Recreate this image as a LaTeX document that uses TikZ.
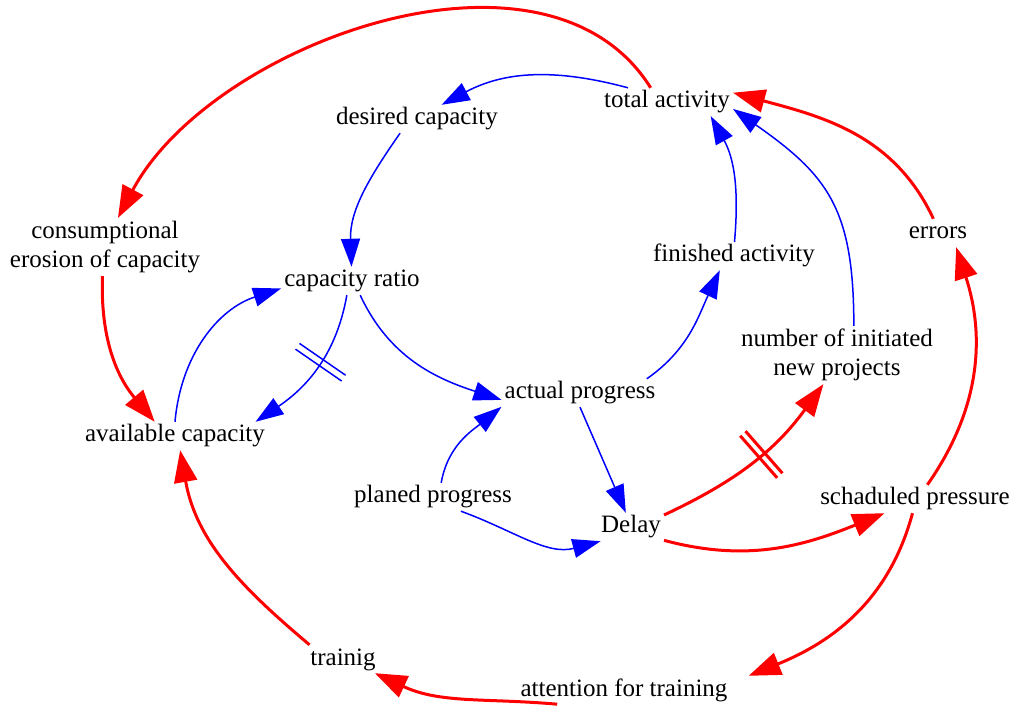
\documentclass[tikz,border=0pt]{standalone}
\usepackage{fontspec}
\setmainfont{Liberation Serif}
\usetikzlibrary{arrows.meta}
\usetikzlibrary{decorations.markings}

\begin{document}
\begin{tikzpicture}[x=1pt, y=1pt,
  var/.style={font=\fontsize{25}{29}\selectfont, inner sep=3pt, text height=17pt, text depth=5pt},
  var2/.style={font=\fontsize{25}{29}\selectfont, inner sep=3pt, align=center},
  blue link/.style={blue, line width=1.5pt, -{Triangle[length=28pt,width=19pt]}},
  red link/.style={red, line width=3pt, -{Triangle[length=32pt,width=23pt]}},
  delaymark/.style={postaction={decorate, decoration={markings,
    mark=at position #1 with {\draw[-] (-3.5,-28) -- (-3.5,28) (3.5,-28) -- (3.5,28);}}}},
  delaymark/.default=0.5]
  \useasboundingbox (0,0) rectangle (1016,706);

  \node[var] (ta) at (667,604) {total activity};
  \node[var] (dc) at (417,587) {desired capacity};
  \node[var2] (ce) at (105,459) {consumptional\\erosion of capacity};
  \node[var] (er) at (938,473) {errors};
  \node[var] (cr) at (352,425) {capacity ratio};
  \node[var] (fa) at (734,450) {finished activity};
  \node[var2] (np) at (837,351) {number of initiated\\new projects};
  \node[var] (ap) at (580,313) {actual progress};
  \node[var] (ac) at (175,270) {available capacity};
  \node[var] (pp) at (433,209) {planed progress};
  \node[var] (de) at (631,179) {Delay};
  \node[var] (sp) at (915,207) {schaduled pressure};
  \node[var] (tr) at (343,47) {trainig};
  \node[var] (at) at (624,16) {attention for training};

  \draw[blue link] (ta.160) to[out=165,in=28] (dc.30);
  \draw[blue link] (dc.220) to[out=235,in=92] (cr.92);
  \draw[blue link, delaymark=0.45] (cr.250) to[out=260,in=34] (ac.10);
  \draw[blue link] (ac.90) to[out=85,in=198] (cr.186);
  \draw[blue link] (cr.300) to[out=295,in=162] (ap.185);
  \draw[blue link] (ap.12) to[out=35,in=245] (fa.225);
  \draw[blue link] (fa.88) to[out=85,in=299] (ta.342);
  \draw[blue link] (np.60) to[out=90,in=325,looseness=1.2] (ta.354);
  \draw[blue link] (pp.60) to[out=80,in=219] (ap.190);
  \draw[blue link] (pp.333) to[out=340,in=195] (de.205);
  \draw[blue link] (ap.270) -- (de.110);

  \draw[red link] (ta.139) to[out=122,in=62,looseness=0.92] (ce.66);
  \draw[red link] (ce.265) to[out=268,in=130] (ac.145);
  \draw[red link] (er.108) to[out=115,in=345] (ta.8);
  \draw[red link] (sp.49) to[out=55,in=288] (er.322);
  \draw[red link, delaymark=0.55] (de.20) to[out=25,in=234] (np.245);
  \draw[red link] (de.338) to[out=345,in=202] (sp.205);
  \draw[red link] (sp.260) to[out=255,in=22] ([xshift=18pt]at.north east);
  \draw[red link] (at.192) to[out=175,in=335] (tr.336);
  \draw[red link] (tr.157) to[out=140,in=280] (ac.290);
\end{tikzpicture}
\end{document}
